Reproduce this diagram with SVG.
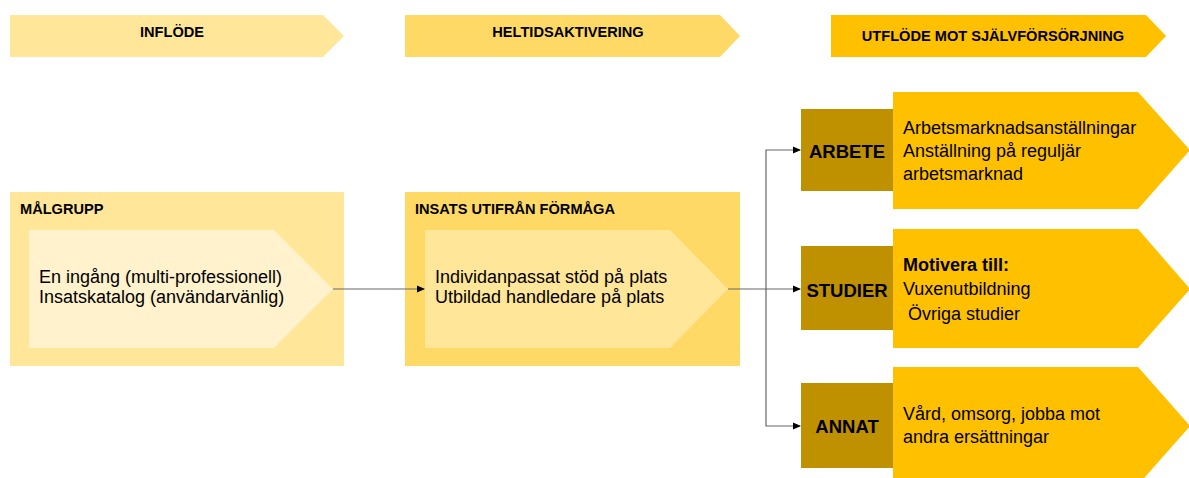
<svg xmlns="http://www.w3.org/2000/svg" width="1189" height="478" viewBox="0 0 1189 478">
<style>
.h{font-family:"Liberation Sans",Arial,sans-serif;font-weight:bold;font-size:14.6px;fill:#000}
.t{font-family:"Liberation Sans",Arial,sans-serif;font-weight:bold;font-size:14.6px;fill:#000}
.b{font-family:"Liberation Sans",Arial,sans-serif;font-size:18px;fill:#000}
.bb{font-family:"Liberation Sans",Arial,sans-serif;font-size:18px;font-weight:bold;fill:#000}
.lbl{font-family:"Liberation Sans",Arial,sans-serif;font-size:18.5px;font-weight:bold;fill:#000;text-anchor:middle}
.c1{fill:#FFE699}.c2{fill:#FFD966}.c3{fill:#FFC000}.c0{fill:#FFF2CC}.cd{fill:#BF9000}
.ln{stroke:#666;stroke-width:1.2;fill:none}
</style>
<defs>
<marker id="ah" markerWidth="8" markerHeight="8" refX="7" refY="4" orient="auto" markerUnits="userSpaceOnUse">
<path d="M0,0.5 L8,4 L0,7.5 Z" fill="#000"/>
</marker>
</defs>
<g id="phase-inflode">
<polygon class="c1" points="10,15 323,15 344,36 323,57 10,57"/>
<text class="h" x="172" y="37" text-anchor="middle">INFLÖDE</text>
</g>
<g id="phase-heltid">
<polygon class="c2" points="405,15 720,15 740,36 720,57 405,57"/>
<text class="h" x="568" y="37" text-anchor="middle">HELTIDSAKTIVERING</text>
</g>
<g id="phase-utflode">
<polygon class="c3" points="831,15 1146,15 1166,36 1146,57 831,57"/>
<text class="h" x="993" y="41" text-anchor="middle">UTFLÖDE MOT SJÄLVFÖRSÖRJNING</text>
</g>
<g id="malgrupp">
<rect class="c1" x="10" y="192" width="334" height="174"/>
<text class="t" x="20" y="214">MÅLGRUPP</text>
<polygon class="c0" points="29,230 274,230 333,289 274,348 29,348"/>
<text class="b" x="39" y="283">En ingång (multi-professionell)</text>
<text class="b" x="39" y="303">Insatskatalog (användarvänlig)</text>
</g>
<g id="insats">
<rect class="c2" x="405" y="192" width="335" height="174"/>
<text class="t" x="415" y="214">INSATS UTIFRÅN FÖRMÅGA</text>
<polygon class="c1" points="425,230 670,230 728,289 670,348 425,348"/>
<text class="b" x="435" y="283">Individanpassat stöd på plats</text>
<text class="b" x="435" y="303">Utbildad handledare på plats</text>
</g>
<g id="arbete">
<polygon class="c3" points="893,92 1138,92 1190,150 1138,209 893,209"/>
<rect class="cd" x="801" y="109" width="92" height="82"/>
<text class="lbl" x="847" y="158">ARBETE</text>
<text class="b" x="903" y="134">Arbetsmarknadsanställningar</text>
<text class="b" x="903" y="157">Anställning på reguljär</text>
<text class="b" x="903" y="180">arbetsmarknad</text>
</g>
<g id="studier">
<polygon class="c3" points="893,229 1138,229 1190,289 1138,348 893,348"/>
<rect class="cd" x="801" y="246" width="92" height="84"/>
<text class="lbl" x="847" y="297">STUDIER</text>
<text class="bb" x="903" y="271">Motivera till:</text>
<text class="b" x="903" y="295">Vuxenutbildning</text>
<text class="b" x="903" y="320" xml:space="preserve"> Övriga studier</text>
</g>
<g id="annat">
<polygon class="c3" points="893,367 1138,367 1190,426 1138,485 893,485"/>
<rect class="cd" x="801" y="383" width="92" height="85"/>
<text class="lbl" x="847" y="433">ANNAT</text>
<text class="b" x="903" y="420">Vård, omsorg, jobba mot</text>
<text class="b" x="903" y="443">andra ersättningar</text>
</g>
<g id="connectors">
<line class="ln" x1="333" y1="289" x2="424" y2="289" marker-end="url(#ah)"/>
<line class="ln" x1="728" y1="289" x2="800" y2="289" marker-end="url(#ah)"/>
<polyline class="ln" points="766,289 766,150 800,150" marker-end="url(#ah)"/>
<polyline class="ln" points="766,289 766,426 800,426" marker-end="url(#ah)"/>
</g>
</svg>
